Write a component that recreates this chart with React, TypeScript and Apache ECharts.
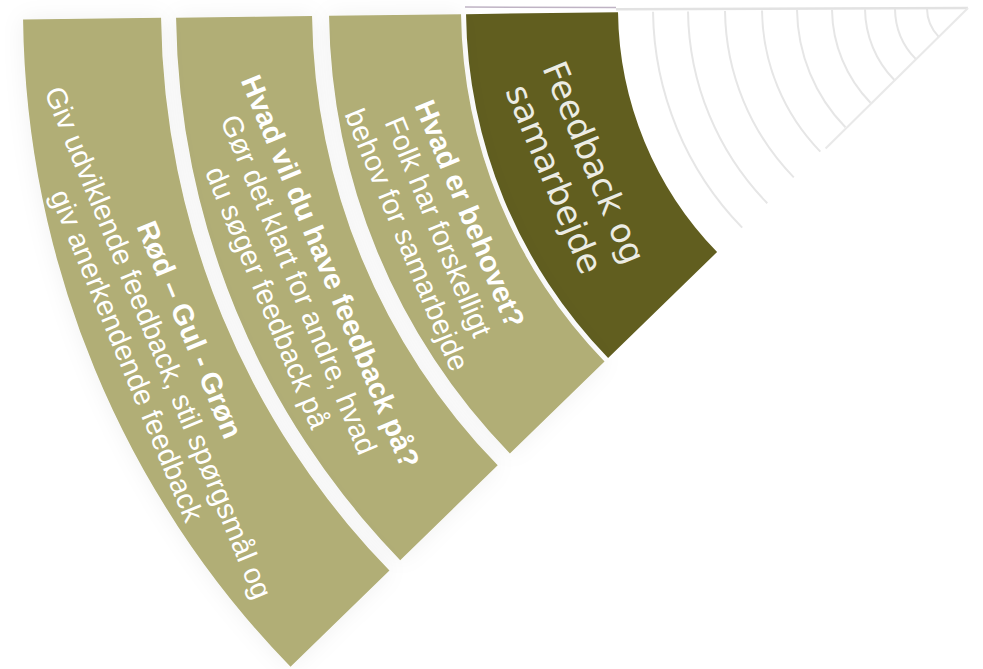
import React, { useEffect, useRef } from 'react';
import * as echarts from 'echarts';

// ---- layout of the fan (pixels / degrees) ----
const CENTER = [968, 8];
const OUTER_RADIUS = 945;
const FAN_START_DEG = 0.7; // below the horizontal, towards the left
const FAN_SPAN_DEG = 43.5;

// ---- data ----
const bandNames = ['Feedback og samarbejde', 'Hvad er behovet?', 'Hvad vil du have feedback på?', 'Rød – Gul - Grøn'];
const bandInner = [350, 507, 656, 807];
const bandOuter = [502, 639, 792, 945];
const bandColors = ['#615e1f', '#b1ae76', '#b1ae76', '#b1ae76'];
const bandTitles = ['', 'Hvad er behovet?', 'Hvad vil du have feedback på?', 'Rød – Gul - Grøn'];
const bandLines = [
  ['Feedback og', 'samarbejde'],
  ['Folk har forskelligt', 'behov for samarbejde'],
  ['Gør det klart for andre, hvad', 'du søger feedback på'],
  ['Giv udviklende feedback, stil spørgsmål og', 'giv anerkendende feedback'],
];
const arcRadii = [41, 73, 103, 136, 171, 206, 243, 280, 315];
const edgeLines = [
  { points: [[0, 0.2], [352, 0.2]], color: '#e2e2e2', width: 2.5 },
  { points: [[352, -0.1], [503, -0.1]], color: '#bfb3c4', width: 1.5 },
  { points: [[0, 44.6], [200, 44.6]], color: '#e9e9e9', width: 2 },
];

const midDeg = FAN_START_DEG + FAN_SPAN_DEG / 2;
const barWidth = (FAN_SPAN_DEG / 360) * 100 + '%';
const catStartAngle = (180 + midDeg + 180) % 360;
// the polar bar label takes this rotation in radians
const labelRotation = -((90 - midDeg) * Math.PI) / 180;

const rich = {
  b: { fontFamily: '"Liberation Sans", Arial, sans-serif', fontWeight: 'bold', fontSize: 29, lineHeight: 34, color: '#ffffff' },
  n: { fontFamily: '"Liberation Sans", Arial, sans-serif', fontSize: 29, lineHeight: 34, color: '#ffffff' },
  g: { fontFamily: '"DejaVu Sans", sans-serif', fontSize: 34, lineHeight: 43, color: '#ecece4' },
};

function buildOption() {
  const series: any[] = [];
  let prev = 0;
  bandInner.forEach((inner, i) => {
    series.push({
      type: 'bar', coordinateSystem: 'polar', polarIndex: 0, stack: 'fan', silent: true,
      data: [inner - prev], barWidth, itemStyle: { color: 'rgba(0,0,0,0)' }, label: { show: false },
    });
    const text = i === 0
      ? bandLines[i].map((l) => `{g|${l}}`).join('\n')
      : [`{b|${bandTitles[i]}}`, ...bandLines[i].map((l) => `{n|${l}}`)].join('\n');
    series.push({
      type: 'bar', coordinateSystem: 'polar', polarIndex: 0, stack: 'fan', silent: true,
      name: bandNames[i], data: [bandOuter[i] - inner], barWidth,
      itemStyle: i === 0
        ? { color: bandColors[i] }
        : { color: bandColors[i], shadowBlur: 22, shadowColor: 'rgba(0,0,0,0.06)' },
      label: {
        show: true, position: 'middle', rotate: labelRotation,
        align: 'center', verticalAlign: 'middle',
        formatter: () => text, rich,
      },
    });
    prev = bandOuter[i];
  });

  let prevArc = 0;
  arcRadii.forEach((r) => {
    series.push({
      type: 'bar', coordinateSystem: 'polar', polarIndex: 1, stack: 'arcs', silent: true,
      data: [r - 1 - prevArc], barWidth, itemStyle: { color: 'rgba(0,0,0,0)' },
    });
    series.push({
      type: 'bar', coordinateSystem: 'polar', polarIndex: 1, stack: 'arcs', silent: true,
      data: [2], barWidth, itemStyle: { color: '#e6e6e6' },
    });
    prevArc = r + 1;
  });

  edgeLines.forEach((ln) => {
    series.push({
      type: 'line', coordinateSystem: 'polar', polarIndex: 2, silent: true,
      data: ln.points, symbol: 'none', lineStyle: { color: ln.color, width: ln.width },
    });
  });

  const hiddenAxis = { axisLine: { show: false }, axisTick: { show: false }, axisLabel: { show: false }, splitLine: { show: false }, splitArea: { show: false } };
  const polarBox = { center: CENTER, radius: [0, OUTER_RADIUS] };

  return {
    animation: false,
    backgroundColor: '#ffffff',
    polar: [polarBox, polarBox, polarBox],
    angleAxis: [
      { polarIndex: 0, type: 'category', data: ['fan'], startAngle: catStartAngle, ...hiddenAxis },
      { polarIndex: 1, type: 'category', data: ['fan'], startAngle: catStartAngle, ...hiddenAxis },
      { polarIndex: 2, type: 'value', min: -10, max: 350, startAngle: 170, clockwise: false, ...hiddenAxis },
    ],
    radiusAxis: [
      { polarIndex: 0, type: 'value', min: 0, max: OUTER_RADIUS, ...hiddenAxis },
      { polarIndex: 1, type: 'value', min: 0, max: OUTER_RADIUS, ...hiddenAxis },
      { polarIndex: 2, type: 'value', min: 0, max: OUTER_RADIUS, ...hiddenAxis },
    ],
    series,
  };
}

export default function App() {
  const ref = useRef<HTMLDivElement>(null);
  useEffect(() => {
    if (!ref.current) return;
    const chart = echarts.init(ref.current, null, { renderer: 'svg' });
    chart.setOption(buildOption() as any);
    return () => chart.dispose();
  }, []);
  return (
    <div
      ref={ref}
      style={{ position: 'fixed', left: 0, top: 0, width: 983, height: 669, background: '#ffffff' }}
    />
  );
}
